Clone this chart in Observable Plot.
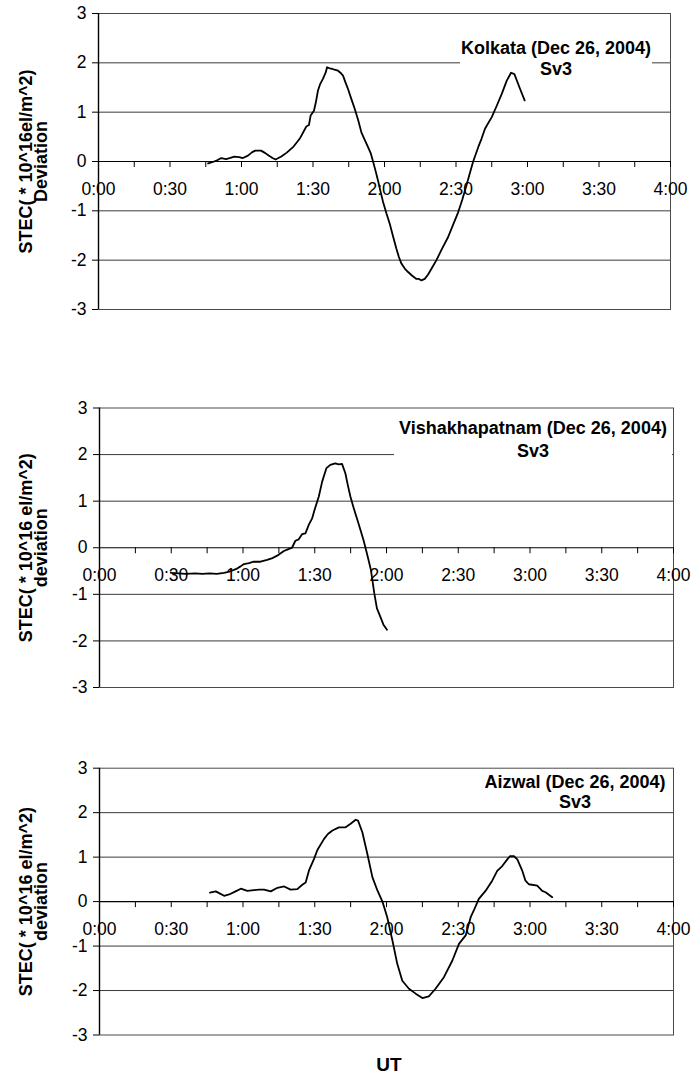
<!DOCTYPE html>
<html>
<head>
<meta charset="utf-8">
<script src="https://cdn.jsdelivr.net/npm/d3@7"></script>
<script src="https://cdn.jsdelivr.net/npm/@observablehq/plot@0.6"></script>
<style>
  body { margin: 0; background: white; }
  #wrap { position: relative; width: 691px; height: 1079px; background: white; overflow: hidden;
          font-family: "Liberation Sans", Arial, Helvetica, sans-serif; color: black; }
  .layer { position: absolute; left: 0; }
  .layer svg { display: block; }
  .back { z-index: 1; }
  .front { z-index: 3; }
  .title { position: absolute; z-index: 2; background: white; text-align: center; font-weight: bold; font-size: 18px; white-space: nowrap; }
  #ut { position: absolute; z-index: 4; left: 349px; width: 80px; top: 1054px; line-height: 22px; text-align: center; font-weight: bold; font-size: 19px; }
</style>
</head>
<body>
<div id="wrap">
  <div class="layer back" id="b1" style="top:0px"></div>
  <div class="layer back" id="b2" style="top:360px"></div>
  <div class="layer back" id="b3" style="top:720px"></div>
  <div class="title" id="t1" style="left:460px; top:38px; width:192px; line-height:21px;"></div>
  <div class="title" id="t2" style="left:394px; top:417px; width:278px; line-height:23px;"></div>
  <div class="title" id="t3" style="left:480px; top:772px; width:190px; line-height:20px;"></div>
  <div class="layer front" id="f1" style="top:0px"></div>
  <div class="layer front" id="f2" style="top:360px"></div>
  <div class="layer front" id="f3" style="top:720px"></div>
  <div id="ut"></div>
</div>
<script>
// ---------- data ----------
const xTickMinutes = [0, 15, 30, 45, 60, 75, 90, 105, 120, 135, 150, 165, 180, 195, 210, 225, 240];
const xLabelMinutes = [0, 30, 60, 90, 120, 150, 180, 210, 240];
const xTickLabels = ["0:00", "0:30", "1:00", "1:30", "2:00", "2:30", "3:00", "3:30", "4:00"];
const yTicks = [-3, -2, -1, 0, 1, 2, 3];
const yGrid = [-2, -1, 1, 2];
const xAxisTitle = "UT";
const satellite = "Sv3";
const stationTitles = ["Kolkata (Dec 26, 2004)", "Vishakhapatnam (Dec 26, 2004)", "Aizwal (Dec 26, 2004)"];
const yTitleLine1 = ["STEC( * 10^16el/m^2)", "STEC( * 10^16 el/m^2)", "STEC( * 10^16 el/m^2)"];
const yTitleLine2 = ["Deviation", "deviation", "deviation"];

// Kolkata: minutes after 0:00 UT, STEC deviation
const kolkataMin = [46, 48, 50, 51.5, 53.5, 55, 57, 59, 60.6, 62.7, 64.5, 65.8, 68.2, 70, 71.4, 73, 74.3, 76.7, 79, 81.6,
  84.4, 87.2, 88.3, 89, 90.4, 91.2, 92.1, 93, 94.2, 95.3, 95.9, 97, 98, 99, 100.5, 101.5, 102.6, 103.5, 104.7, 106,
  107.5, 109, 110.3, 111.7, 113.1, 114.2, 115.2, 116.2, 117.3, 118.3, 119.4, 120.8, 122.2, 123.6, 125, 126, 127.1, 128.5, 129.9, 131.5,
  133.4, 134.5, 135.5, 136.9, 138.3, 140, 141.8, 144, 146.7, 148.8, 150.9, 152.6, 154.4, 155.8, 157.2, 159.4, 160.7, 162.2, 165, 167.1,
  169.2, 171.3, 173.1, 174.5, 176.9, 178.8];
const kolkataTec = [-0.04, -0.01, 0.03, 0.07, 0.05, 0.07, 0.1, 0.09, 0.07, 0.12, 0.19, 0.22, 0.22, 0.17, 0.12, 0.07, 0.04, 0.10, 0.18, 0.29,
  0.46, 0.71, 0.74, 0.93, 1.03, 1.2, 1.44, 1.57, 1.68, 1.8, 1.91, 1.89, 1.88, 1.86, 1.84, 1.8, 1.74, 1.62, 1.47, 1.28,
  1.07, 0.83, 0.59, 0.44, 0.29, 0.17, 0.0, -0.18, -0.39, -0.6, -0.82, -1.05, -1.26, -1.52, -1.77, -1.93, -2.07, -2.17, -2.24, -2.31,
  -2.38, -2.38, -2.41, -2.38, -2.29, -2.15, -2.0, -1.78, -1.53, -1.28, -1.03, -0.78, -0.48, -0.24, 0.0, 0.3, 0.46, 0.67, 0.9, 1.13,
  1.37, 1.64, 1.80, 1.77, 1.47, 1.24];

// Vishakhapatnam
const vishakhaMin = [29.8, 33, 36, 40, 43, 46, 49, 52, 54.4, 57, 59, 60.4, 62.5, 64.5, 67.3, 70.1, 72, 74.3, 77.1, 79,
  80.5, 81.9, 83.3, 84.7, 86.1, 87.5, 88.9, 89.9, 91.7, 93.1, 94.9, 96.5, 98.6, 100, 101.4, 102.8, 103.8, 104.9, 106.3, 108.3,
  110.4, 111.8, 113.5, 114.9, 116, 117.4, 118.8, 120.2];
const vishakhaTec = [-0.54, -0.55, -0.56, -0.55, -0.56, -0.55, -0.56, -0.54, -0.51, -0.46, -0.40, -0.35, -0.33, -0.30, -0.30, -0.26, -0.23, -0.17, -0.07, -0.03,
  0.0, 0.15, 0.18, 0.29, 0.31, 0.49, 0.63, 0.81, 1.10, 1.42, 1.71, 1.78, 1.81, 1.79, 1.80, 1.60, 1.35, 1.10, 0.85, 0.52,
  0.16, -0.12, -0.48, -0.98, -1.30, -1.48, -1.66, -1.76];

// Aizwal
const aizwalMin = [46.2, 48.6, 50, 52.1, 54.2, 56.9, 59.1, 61.8, 64.6, 66.7, 68.8, 71.6, 74.4, 77.2, 79.9, 82.7, 84.8, 86.2, 87.6, 89.7,
  91.1, 93.9, 95.5, 97.4, 100.1, 102.9, 105, 107.1, 108.1, 109.9, 112, 114.1, 116.2, 118.3, 120.3, 122.5, 124.5, 126.6, 129.4, 132.2,
  135, 137.7, 140.5, 144, 147.5, 150.3, 153.1, 155.2, 156.5, 158.6, 161.4, 164.2, 166.3, 168.4, 170.5, 171.6, 173.3, 174.7, 176.8, 178.1,
  179.5, 183, 185.1, 186.5, 189.3];
const aizwalTec = [0.20, 0.23, 0.19, 0.13, 0.16, 0.23, 0.29, 0.24, 0.26, 0.27, 0.27, 0.23, 0.31, 0.34, 0.27, 0.28, 0.38, 0.43, 0.70, 0.96,
  1.16, 1.41, 1.52, 1.60, 1.67, 1.67, 1.75, 1.84, 1.82, 1.56, 1.07, 0.55, 0.25, 0.0, -0.35, -0.88, -1.40, -1.78, -1.96, -2.07,
  -2.17, -2.13, -1.96, -1.70, -1.33, -0.95, -0.76, -0.35, -0.2, 0.06, 0.24, 0.47, 0.69, 0.80, 0.95, 1.02, 1.02, 0.95, 0.69, 0.47,
  0.39, 0.36, 0.24, 0.21, 0.10];

// ---------- drawing ----------
const FONT = "'Liberation Sans', Arial, Helvetica, sans-serif";

function baseOptions(layout, background) {
  return {
    width: 691,
    height: layout.height,
    marginTop: layout.mt,
    marginBottom: layout.mb,
    marginLeft: layout.ml,
    marginRight: layout.mr,
    style: {fontFamily: FONT, fontSize: "17.5px", background, color: "black", overflow: "visible"},
    x: {domain: [0, 240], axis: null},
    y: {domain: [-3, 3], axis: null}
  };
}

// back layer: horizontal gridlines (behind the title boxes)
function makeBack(layout) {
  return Plot.plot({
    ...baseOptions(layout, "white"),
    marks: [
      Plot.ruleY(yGrid, {y: d => d, stroke: "#3a3a3a", strokeWidth: 1})
    ]
  });
}

// front layer: frame, axes, labels and the series line (over the title boxes)
function makeFront(minutes, tec, i, layout) {
  const series = minutes.map((m, k) => ({m, v: tec[k]}));
  const labelStyle = {frameAnchor: "left", textAnchor: "middle", rotate: -90, text: d => d,
    fontSize: 18, fontWeight: "bold", fill: "black"};
  return Plot.plot({
    ...baseOptions(layout, "transparent"),
    marks: [
      Plot.frame({stroke: "#4a4a4a", strokeWidth: 1}),
      Plot.text(xLabelMinutes, {x: d => d, y: () => 0, dy: 28, text: (d, k) => xTickLabels[k], fontSize: 17.5, fill: "black"}),
      Plot.ruleX(xTickMinutes, {x: d => d, y1: () => 0, y2: () => 0, insetBottom: -6, stroke: "black"}),
      Plot.ruleY([0], {stroke: "black", strokeWidth: 1.2}),
      Plot.ruleX([0], {stroke: "black", strokeWidth: 1.4}),
      Plot.axisY(yTicks, {tickSize: 6, tickPadding: 6, fontSize: 17.5, tickFormat: d => String(d), label: null, stroke: "black"}),
      Plot.line(series, {x: "m", y: "v", stroke: "black", strokeWidth: 1.8, strokeLinejoin: "round"}),
      Plot.text([yTitleLine1[i]], {...labelStyle, dx: layout.labelDx}),
      Plot.text([yTitleLine2[i]], {...labelStyle, dx: layout.labelDx + 15})
    ]
  });
}

const layouts = [
  {height: 360, mt: 13, mb: 51, ml: 98, mr: 21, labelDx: -72},
  {height: 360, mt: 47.5, mb: 33, ml: 99, mr: 18, labelDx: -73},
  {height: 359, mt: 47.7, mb: 44.5, ml: 99, mr: 18, labelDx: -73}
];
const seriesList = [[kolkataMin, kolkataTec], [vishakhaMin, vishakhaTec], [aizwalMin, aizwalTec]];

seriesList.forEach(([mins, vals], i) => {
  document.getElementById("b" + (i + 1)).appendChild(makeBack(layouts[i]));
  document.getElementById("f" + (i + 1)).appendChild(makeFront(mins, vals, i, layouts[i]));
  const el = document.getElementById("t" + (i + 1));
  const l1 = document.createElement("div"); l1.textContent = stationTitles[i];
  const l2 = document.createElement("div"); l2.textContent = satellite;
  el.appendChild(l1); el.appendChild(l2);
});
document.getElementById("ut").textContent = xAxisTitle;
</script>
</body>
</html>
